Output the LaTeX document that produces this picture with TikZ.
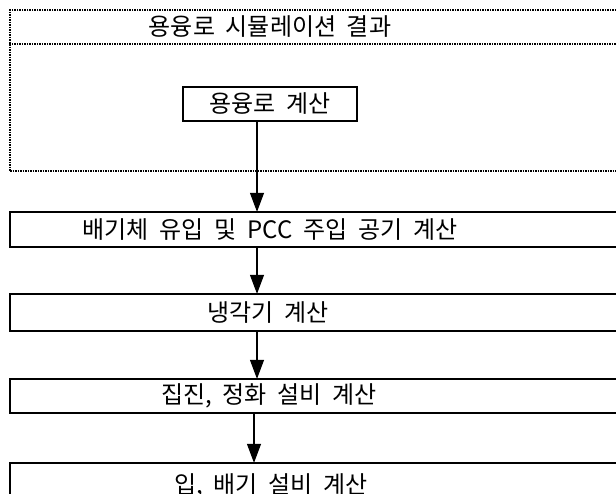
\documentclass[tikz,border=0pt]{standalone}
\usepackage{fontspec}
\newfontfamily\kr[WordSpace=2]{Noto Sans CJK KR}
\usetikzlibrary{arrows.meta}
\tikzset{
  x=1pt, y=-1pt,
  txt/.style={font=\kr\fontsize{24}{28}\selectfont, inner sep=0pt, anchor=center},
  boxf/.style={draw, line width=1.3pt, inner sep=0pt, minimum width=630pt},
  dotline/.style={line width=1.2pt, dash pattern=on 1.5pt off 1pt},
  flow/.style={line width=1.1pt, -{Triangle[width=14pt,length=19pt]}, shorten >=-0.5pt}
}
\begin{document}
\begin{tikzpicture}
\useasboundingbox (0,0) rectangle (616,493);
\clip (0,0) rectangle (616,493);
\fill[white] (0,0) rectangle (616,493);
% outer dotted frame
\node[dotline, draw, inner sep=0pt, minimum width=640pt, minimum height=161pt] (outer) at (330,90.5) {};
\draw[dotline] (outer.west |- 0,44) -- (outer.east |- 0,44);
\node[txt] (title) at (270,27) {용융로 시뮬레이션 결과};
% inner box
\node[draw, line width=2pt, inner sep=0pt, minimum width=174pt, minimum height=34pt, txt] (b1) at (270,104) {용융로 계산};
% flow boxes
\node[boxf, minimum height=35pt] (b2) at (325,229.5) {};
\node[txt] (t2) at (270,229.5) {배기체 유입 및 PCC 주입 공기 계산};
\node[boxf, minimum height=37pt] (b3) at (325,312.5) {};
\node[txt] (t3) at (268,312.5) {냉각기 계산};
\node[boxf, minimum height=34pt] (b4) at (325,396) {};
\node[txt] (t4) at (269,396) {집진, 정화 설비 계산};
\node[boxf, minimum height=50pt] (b5) at (325,488) {};
\node[txt] (t5) at (271,486) {입, 배기 설비 계산};
% arrows
\coordinate (ax) at (257,0);
\coordinate (ax2) at (254,0);
\draw[flow] (b1.south -| ax) -- (b2.north -| ax);
\draw[flow] (b2.south -| ax) -- (b3.north -| ax);
\draw[flow] (b3.south -| ax) -- (b4.north -| ax);
\draw[flow] (b4.south -| ax2) -- (b5.north -| ax2);
\end{tikzpicture}
\end{document}
